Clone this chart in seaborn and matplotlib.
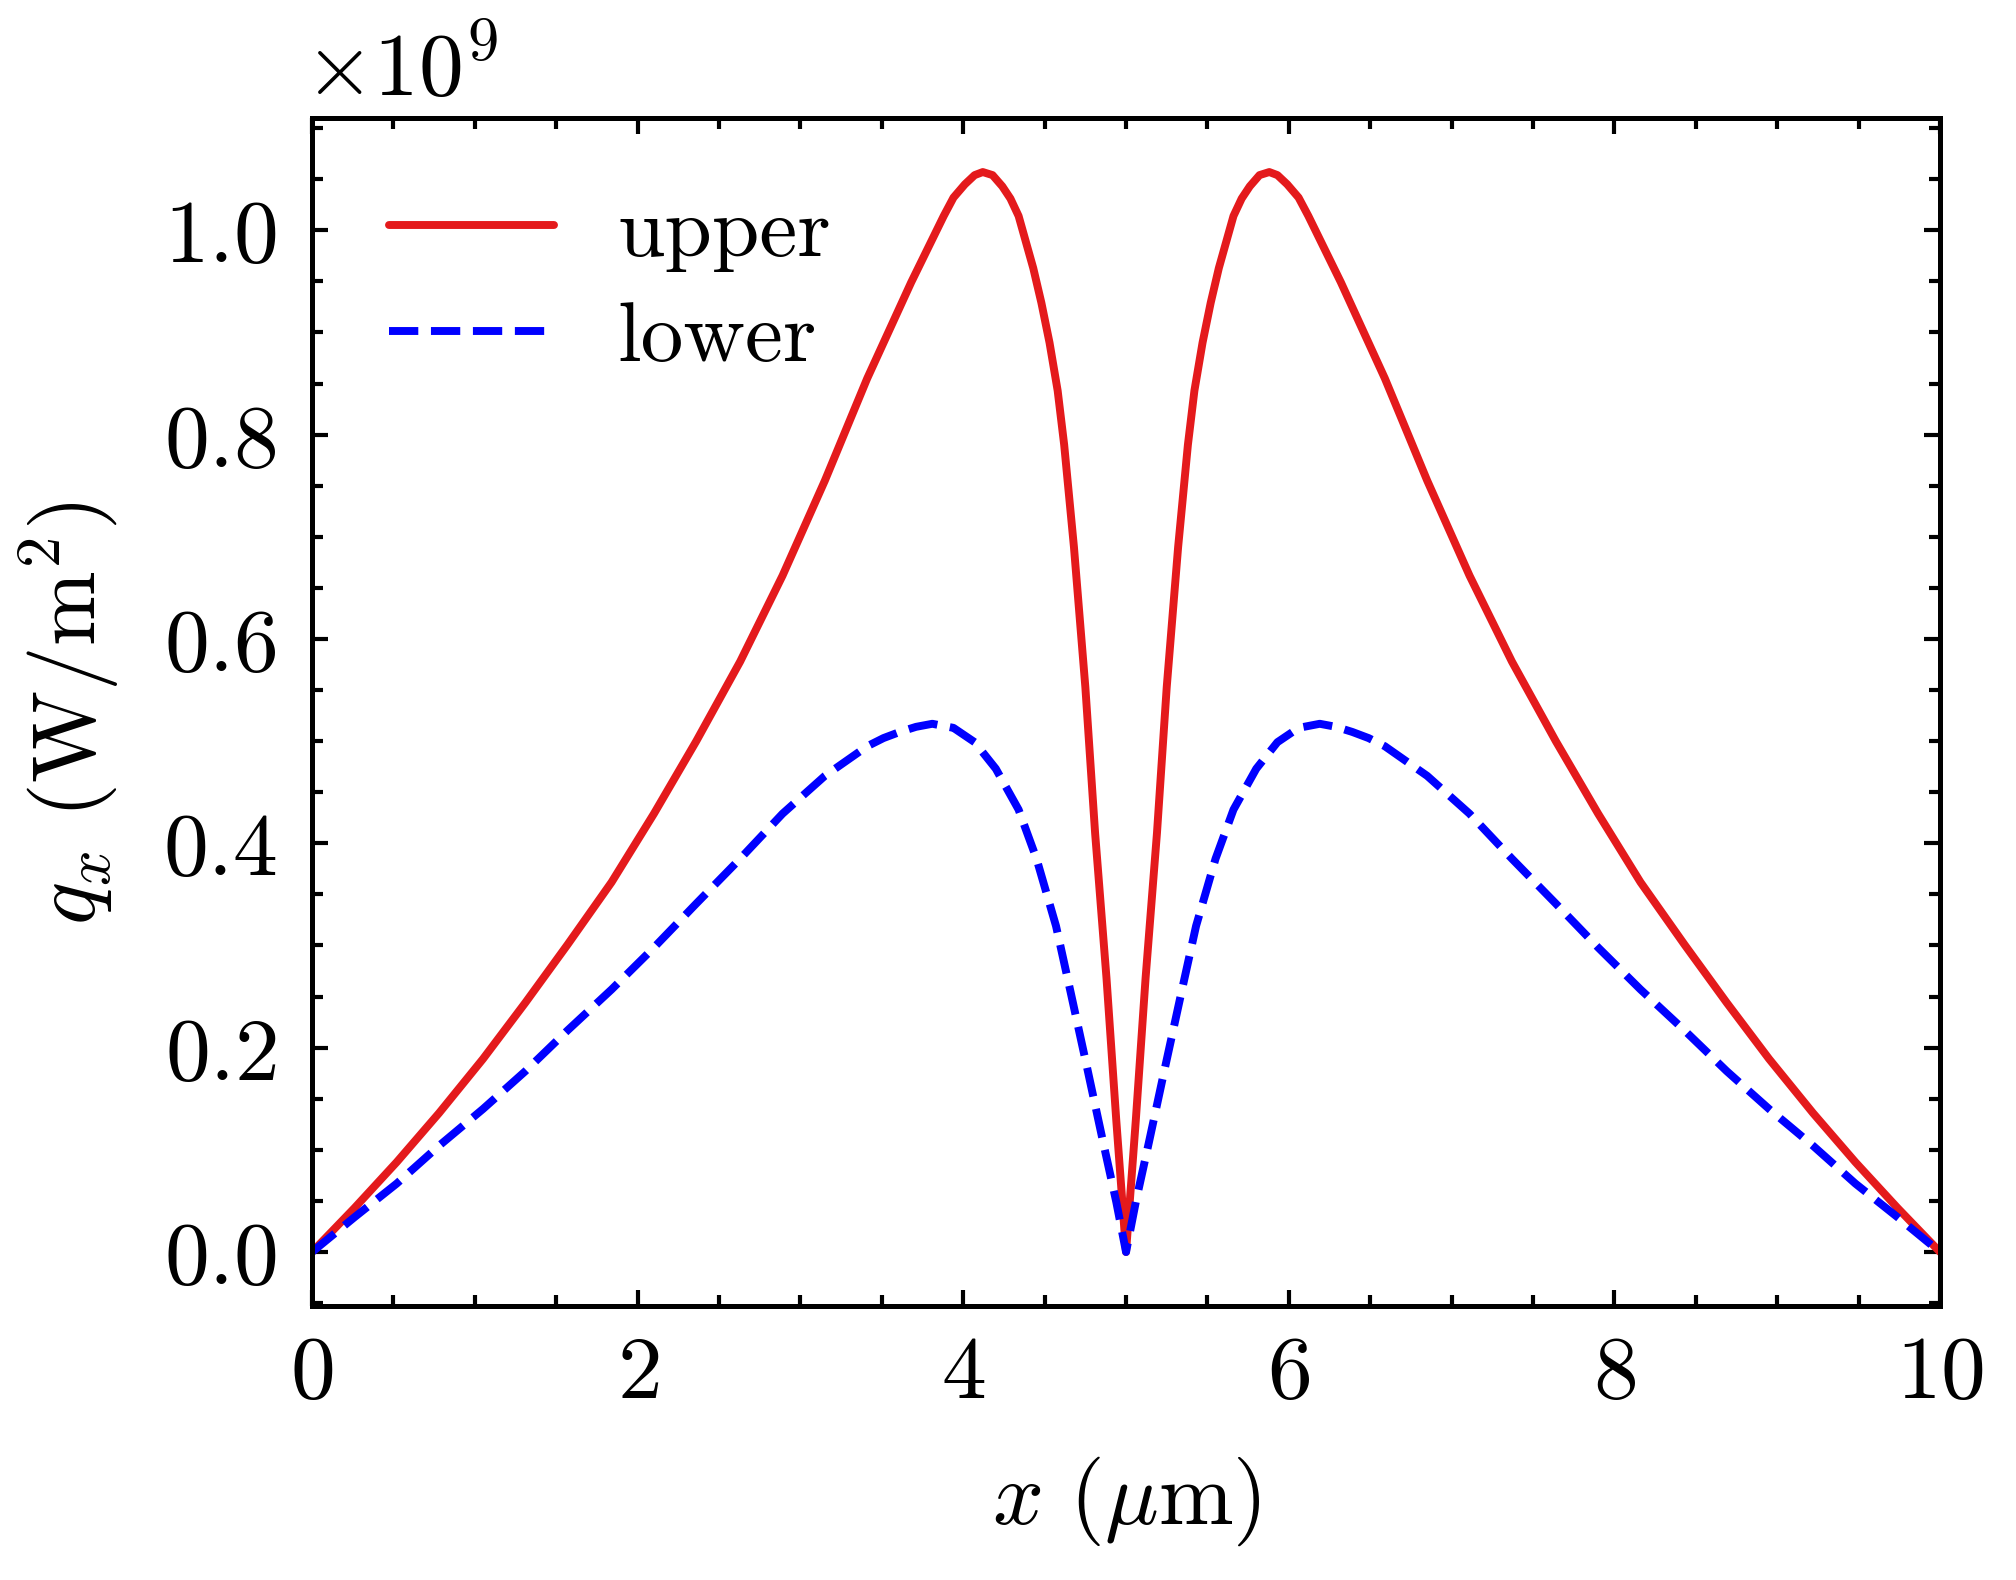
import numpy as np
import seaborn as sns
import matplotlib.pyplot as plt
from matplotlib.ticker import MultipleLocator
from matplotlib.transforms import ScaledTranslation

# heat flux along x (units of 1e9 W/m^2)
x_upper = [0.0, 0.26, 0.52, 0.78, 1.05, 1.31, 1.57, 1.84, 2.1, 2.36, 2.63, 2.89, 3.15, 3.41, 3.68,
           3.88, 3.94, 4.01, 4.07, 4.12, 4.18, 4.24, 4.29, 4.34, 4.43, 4.48, 4.53, 4.58, 4.62, 4.68,
           4.75, 4.81, 4.88, 4.94, 5.0,
           5.06, 5.12, 5.19, 5.25, 5.32, 5.38, 5.42, 5.47, 5.52, 5.57, 5.66, 5.71, 5.76, 5.82,
           5.88, 5.93, 5.99, 6.06, 6.12, 6.32, 6.59, 6.85, 7.11, 7.37, 7.64, 7.9, 8.16, 8.43,
           8.69, 8.95, 9.22, 9.48, 9.74, 10.0]
q_upper = [0.0, 0.043, 0.088, 0.136, 0.189, 0.244, 0.301, 0.362, 0.429, 0.500, 0.578, 0.662, 0.755, 0.855, 0.949,
           1.014, 1.032, 1.045, 1.054, 1.057, 1.054, 1.043, 1.031, 1.014, 0.963, 0.929, 0.89, 0.843, 0.79, 0.69,
           0.553, 0.41, 0.268, 0.129, 0.0,
           0.129, 0.268, 0.41, 0.553, 0.69, 0.79, 0.843, 0.89, 0.929, 0.963, 1.014, 1.031, 1.043, 1.054,
           1.057, 1.054, 1.045, 1.032, 1.014, 0.949, 0.855, 0.755, 0.662, 0.578, 0.500, 0.429, 0.362, 0.301,
           0.244, 0.189, 0.136, 0.088, 0.043, 0.0]

x_lower = [0.0, 0.26, 0.52, 0.78, 1.05, 1.31, 1.57, 1.84, 2.1, 2.36, 2.63, 2.89, 3.15, 3.41, 3.51,
           3.61, 3.71, 3.81, 3.94, 4.07, 4.2, 4.34, 4.45, 4.57, 4.66, 4.76, 4.86, 4.94, 5.0,
           5.06, 5.14, 5.24, 5.34, 5.43, 5.55, 5.66, 5.8, 5.93, 6.06, 6.19, 6.29, 6.39, 6.49,
           6.59, 6.85, 7.11, 7.37, 7.64, 7.9, 8.16, 8.43, 8.69, 8.95, 9.22, 9.48, 9.74, 10.0]
q_lower = [0.0, 0.034, 0.067, 0.104, 0.14, 0.177, 0.217, 0.257, 0.298, 0.341, 0.385, 0.429, 0.466, 0.495, 0.503,
           0.509, 0.514, 0.517, 0.513, 0.499, 0.473, 0.433, 0.385, 0.319, 0.254, 0.181, 0.107, 0.049, 0.0,
           0.049, 0.107, 0.181, 0.254, 0.319, 0.385, 0.433, 0.473, 0.499, 0.513, 0.517, 0.514, 0.509, 0.503,
           0.495, 0.466, 0.429, 0.385, 0.341, 0.298, 0.257, 0.217, 0.177, 0.14, 0.104, 0.067, 0.034, 0.0]

sns.set_style("ticks")
plt.rcParams.update({
    "font.family": "serif",
    "font.serif": ["cmr10"],
    "mathtext.fontset": "cm",
    "axes.formatter.use_mathtext": True,
    "axes.unicode_minus": False,
    "font.size": 21.5,
    "axes.linewidth": 1.2,
    "text.color": "black",
    "axes.labelcolor": "black",
    "axes.edgecolor": "black",
    "xtick.color": "black",
    "ytick.color": "black",
})

fig = plt.figure(figsize=(6.72, 5.27), dpi=300)
ax = fig.add_axes([0.1548, 0.1733, 0.8075, 0.7514])

sns.lineplot(x=x_upper, y=np.array(q_upper) * 1e9, ax=ax, color="#e41a1c", lw=1.9, label="upper")
sns.lineplot(x=x_lower, y=np.array(q_lower) * 1e9, ax=ax, color="blue", lw=1.9, ls="--", label="lower")

ax.set_xlim(0, 10)
ax.xaxis.set_major_locator(MultipleLocator(2))
ax.xaxis.set_minor_locator(MultipleLocator(0.5))
ax.yaxis.set_major_locator(MultipleLocator(0.2e9))
ax.yaxis.set_minor_locator(MultipleLocator(0.05e9))
ax.tick_params(which="both", direction="in", top=True, right=True, width=1.0, labelsize=21.5)
ax.tick_params(which="major", length=3.8)
ax.tick_params(axis="y", which="major", pad=8.5)
ax.tick_params(axis="x", which="major", pad=7)
ax.tick_params(which="minor", length=2.6)

off = ax.yaxis.get_offset_text()
off.set_transform(off.get_transform() + ScaledTranslation(-2 / 72, 2.5 / 72, fig.dpi_scale_trans))

ax.set_xlabel(r"$x\ (\mu\mathrm{m})$", fontsize=21.5, labelpad=9.5)
ax.set_ylabel(r"$q_x\ (\mathrm{W/m^2})$", fontsize=21.5, labelpad=10)

ax.legend(loc="upper left", frameon=False, fontsize=20.5, handlelength=1.93,
          handletextpad=0.75, labelspacing=0.35)

fig.savefig("out.png", dpi=300)
